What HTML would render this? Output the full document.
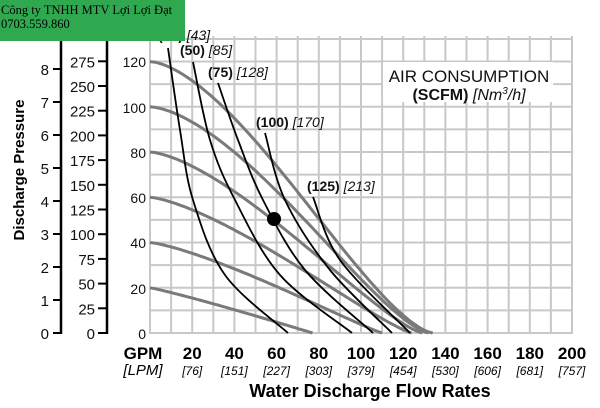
<!DOCTYPE html>
<html><head><meta charset="utf-8"><style>
html,body{margin:0;padding:0;background:#fff;width:600px;height:408px;overflow:hidden}
svg{display:block;font-family:"Liberation Sans",sans-serif}
</style></head><body>
<svg id="s" width="600" height="408" viewBox="0 0 600 408" xmlns="http://www.w3.org/2000/svg">
<g id="grid" stroke="#c8c8c8" stroke-width="2"></g>
<rect x="383" y="62" width="170" height="40" fill="#fff"/>
<g id="gray" fill="none" stroke="#7a7a7a" stroke-width="3"></g>
<g id="black" fill="none" stroke="#000" stroke-width="1.8"></g>
<circle cx="274" cy="219" r="7" fill="#000"/>
<g font-size="14" text-anchor="end" fill="#111">
<text x="146" y="67">120</text><text x="146" y="113">100</text><text x="146" y="158">80</text>
<text x="146" y="203">60</text><text x="146" y="248">40</text><text x="146" y="294">20</text><text x="146" y="339">0</text>
</g>
<g stroke="#000" stroke-width="2.5">
<line x1="61" y1="35" x2="61" y2="334"/><line x1="107" y1="35" x2="107" y2="334"/>
</g>
<g id="ticks" stroke="#000" stroke-width="2"></g>
<g font-size="15" text-anchor="end" fill="#111" id="tl"></g>
<text transform="translate(24,170) rotate(-90)" text-anchor="middle" font-weight="bold" font-size="15">Discharge Pressure</text>
<g font-size="14" fill="#111">
<text x="180" y="55"><tspan font-weight="bold">(50)</tspan> <tspan font-style="italic">[85]</tspan></text>
<text x="208" y="77"><tspan font-weight="bold">(75)</tspan> <tspan font-style="italic">[128]</tspan></text>
<text x="256" y="127"><tspan font-weight="bold">(100)</tspan> <tspan font-style="italic">[170]</tspan></text>
<text x="307" y="191"><tspan font-weight="bold">(125)</tspan> <tspan font-style="italic">[213]</tspan></text>
<text x="158" y="40"><tspan font-weight="bold">(43)</tspan> <tspan font-style="italic">[43]</tspan></text>
</g>
<text x="469" y="82" text-anchor="middle" font-size="17" fill="#111">AIR CONSUMPTION</text>
<text x="469" y="100" text-anchor="middle" font-size="16" fill="#111"><tspan font-weight="bold">(SCFM)</tspan> <tspan font-style="italic">[Nm<tspan font-size="10" dy="-6">3</tspan><tspan dy="6">/h]</tspan></tspan></text>
<g id="xl" text-anchor="middle"></g>
<text x="143" y="359" text-anchor="middle" font-weight="bold" font-size="17">GPM</text>
<text x="143" y="375" text-anchor="middle" font-style="italic" font-size="15">[LPM]</text>
<text x="370" y="397" text-anchor="middle" font-weight="bold" font-size="18">Water Discharge Flow Rates</text>
<rect x="0" y="0" width="185" height="41" fill="#2fa84f"/>
<text x="1" y="14" font-family="Liberation Serif,serif" font-size="12.5" fill="#000">Công ty TNHH MTV Lợi Lợi Đạt</text>
<text x="1" y="28" font-family="Liberation Serif,serif" font-size="12.5" fill="#000">0703.559.860</text>
</svg>
<script>
var NS="http://www.w3.org/2000/svg";
function el(p,t,a,txt){var e=document.createElementNS(NS,t);for(var k in a)e.setAttribute(k,a[k]);if(txt!=null)e.textContent=txt;document.getElementById(p).appendChild(e);return e;}
var X=function(q){return 150+q*2.11},Y=function(p){return 333-p*2.262};
for(var i=0;i<=20;i++){var x=X(i*10);el("grid","line",{x1:x,y1:36,x2:x,y2:334});}
for(var j=0;j<=13;j++){var y=Y(j*10);el("grid","line",{x1:150,y1:y,x2:X(200)+1,y2:y});}
var gc=[[120,134,1.6,1.5],[100,132,1.6,1.4],[80,129,1.5,1.3],[60,124,1.4,1.2],[40,110,1.3,1.1],[20,77,1.1,1]];
gc.forEach(function(c){var d="";for(var k=0;k<=60;k++){var t=k/60,q=t*c[1],p=c[0]*Math.pow(1-Math.pow(t,c[2]),c[3]);d+=(k?"L":"M")+X(q).toFixed(1)+","+Y(p).toFixed(1);}el("gray","path",{d:d});});
function cr(pts){var d="M"+pts[0];for(var i=0;i<pts.length-1;i++){var p0=pts[i-1]||pts[i],p1=pts[i],p2=pts[i+1],p3=pts[i+2]||p2;
d+="C"+(p1[0]+(p2[0]-p0[0])/6)+","+(p1[1]+(p2[1]-p0[1])/6)+" "+(p2[0]-(p3[0]-p1[0])/6)+","+(p2[1]-(p3[1]-p1[1])/6)+" "+p2[0]+","+p2[1];}return d;}
[[[168,48],[180,130],[193,200],[225,275],[288,333]],
[[193,62],[210,140],[235,200],[280,275],[352,333]],
[[218,83],[238,140],[263,200],[305,270],[373,333]],
[[265,133],[285,200],[330,270],[392,333]],
[[313,197],[340,260],[410,333]]].forEach(function(p){el("black","path",{d:cr(p)});});
for(var b=0;b<=8;b++){var y=333-b*33;el("ticks","line",{x1:53,y1:y,x2:61,y2:y});el("tl","text",{x:49,y:y+6},b);}
for(var s=0;s<=275;s+=25){var y=333-s*0.988;el("ticks","line",{x1:98,y1:y,x2:107,y2:y});el("tl","text",{x:95,y:y+6},s);}
var l=[76,151,227,303,379,454,530,606,681,757];
for(var i=1;i<=10;i++){var x=X(i*20);el("xl","text",{x:x,y:359,"font-weight":"bold","font-size":"17"},i*20);el("xl","text",{x:x,y:375,"font-style":"italic","font-size":"12"},"["+l[i-1]+"]");}
</script>
</body></html>
